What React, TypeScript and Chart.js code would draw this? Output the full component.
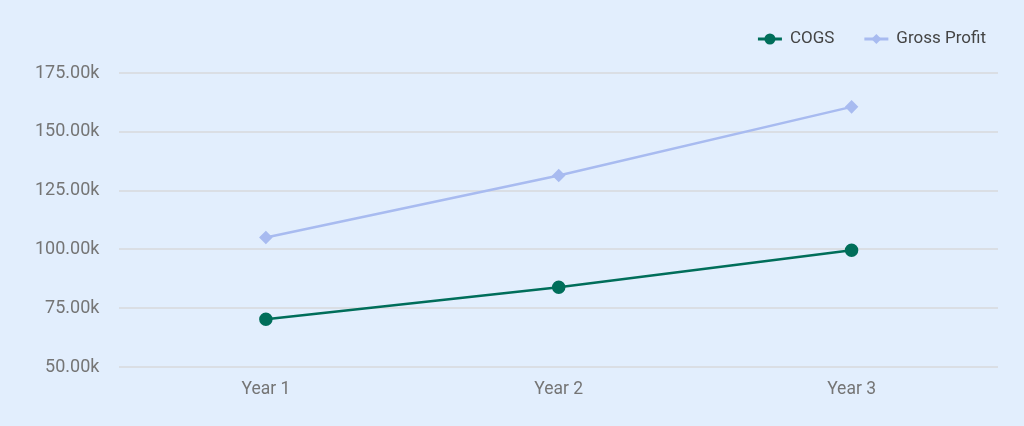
import React, { useEffect, useRef } from "react";
import { Chart, registerables } from "chart.js";

Chart.register(...registerables);

const categories = ["Year 1", "Year 2", "Year 3"];
const cogsValues = [70300, 83900, 99600];
const grossProfitValues = [105100, 131400, 160600];
const seriesNames = ["COGS", "Gross Profit"];

const BG = "rgb(226,238,253)";
const COGS_COLOR = "rgb(0,110,90)";
const GP_COLOR = "rgb(168,187,240)";
const TEXT_COLOR = "#757575";
const LEGEND_TEXT = "#444444";
const FONT = "Roboto";

const customLegend = {
  id: "customLegend",
  afterDraw(chart: any) {
    const ctx = chart.ctx;
    const ds = chart.data.datasets;
    ctx.save();
    ctx.font = `17px ${FONT}`;
    ctx.textBaseline = "middle";
    ctx.textAlign = "left";
    const y = 39;
    let x = 986;
    for (let i = ds.length - 1; i >= 0; i--) {
      const d = ds[i];
      const w = ctx.measureText(d.label).width;
      x -= w;
      ctx.fillStyle = LEGEND_TEXT;
      ctx.fillText(d.label, x, y);
      x -= 8;
      const mx0 = x - 24;
      ctx.strokeStyle = d.borderColor;
      ctx.lineWidth = 3;
      ctx.beginPath();
      ctx.moveTo(mx0, y);
      ctx.lineTo(x, y);
      ctx.stroke();
      ctx.fillStyle = d.pointBackgroundColor;
      const cx = mx0 + 12;
      ctx.beginPath();
      if (d.pointStyle === "rectRot") {
        const r = 5;
        ctx.moveTo(cx, y - r);
        ctx.lineTo(cx + r, y);
        ctx.lineTo(cx, y + r);
        ctx.lineTo(cx - r, y);
        ctx.closePath();
      } else {
        ctx.arc(cx, y, 5.5, 0, Math.PI * 2);
      }
      ctx.fill();
      x = mx0 - 30;
    }
    ctx.restore();
  },
};

export default function App() {
  const ref = useRef<HTMLCanvasElement>(null);
  useEffect(() => {
    if (!ref.current) return;
    const chart = new Chart(ref.current, {
      type: "line",
      data: {
        labels: categories,
        datasets: [
          {
            label: seriesNames[0],
            data: cogsValues,
            borderColor: COGS_COLOR,
            backgroundColor: COGS_COLOR,
            pointBackgroundColor: COGS_COLOR,
            pointBorderColor: COGS_COLOR,
            pointStyle: "circle",
            pointRadius: 5.5,
            borderWidth: 2.5,
            tension: 0,
          },
          {
            label: seriesNames[1],
            data: grossProfitValues,
            borderColor: GP_COLOR,
            backgroundColor: GP_COLOR,
            pointBackgroundColor: GP_COLOR,
            pointBorderColor: GP_COLOR,
            pointStyle: "rectRot",
            pointRadius: 5,
            borderWidth: 2.5,
            tension: 0,
          },
        ],
      },
      options: {
        responsive: false,
        animation: false,
        layout: { padding: { top: 73, right: 26, bottom: 14, left: 15 } },
        plugins: {
          legend: { display: false },
          tooltip: { enabled: false },
        },
        scales: {
          x: {
            offset: true,
            grid: { display: false, drawTicks: false },
            border: { display: false },
            ticks: {
              color: TEXT_COLOR,
              font: { family: FONT, size: 17.5 },
              padding: 12,
            },
          },
          y: {
            min: 50000,
            max: 175000,
            grid: { color: "rgb(218,222,228)", lineWidth: 2, drawTicks: false },
            border: { display: false },
            ticks: {
              stepSize: 25000,
              color: TEXT_COLOR,
              font: { family: FONT, size: 18 },
              padding: 20,
              callback: (v: any) => (Number(v) / 1000).toFixed(2) + "k",
            },
          },
        },
      },
      plugins: [customLegend],
    });
    return () => chart.destroy();
  }, []);
  return (
    <div
      style={{
        position: "fixed",
        left: 0,
        top: 0,
        width: 1024,
        height: 426,
        background: BG,
      }}
    >
      <canvas ref={ref} width={1024} height={426} style={{ display: "block" }} />
    </div>
  );
}
